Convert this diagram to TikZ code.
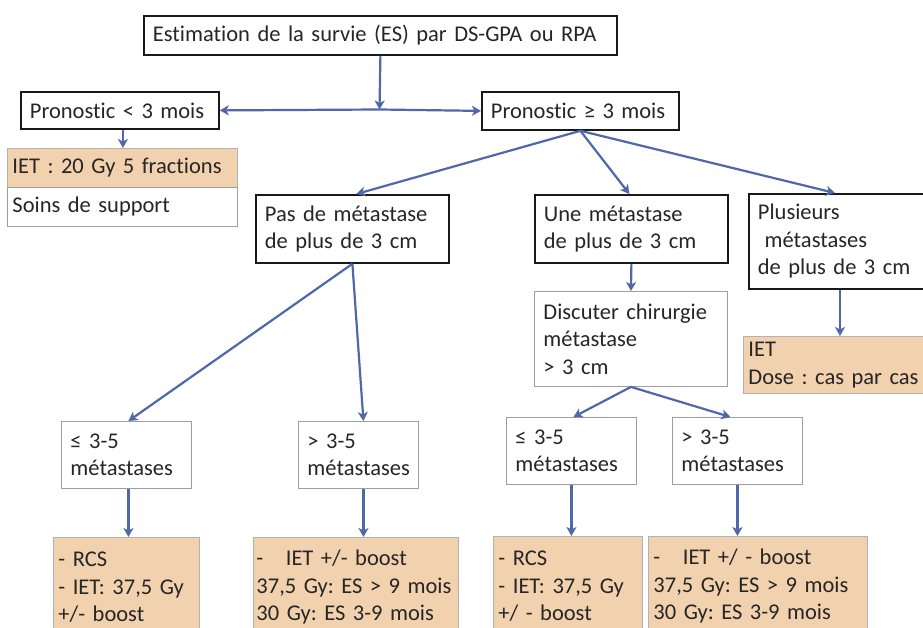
\documentclass[tikz,border=0pt]{standalone}
\usepackage{fontspec}
\setmainfont{Carlito}[Ligatures=NoCommon]
\usepackage{xcolor}
\usepackage{tikz}
\usetikzlibrary{arrows.meta}

\definecolor{arrowblue}{RGB}{80,104,170}
\definecolor{tan}{RGB}{241,209,174}
\definecolor{inkgrey}{RGB}{38,38,38}
\frenchspacing

\begin{document}
\begin{tikzpicture}[x=1pt, y=-1pt,
	every node/.style={font=\fontsize{22.5}{27.5}\selectfont, text=inkgrey},
	box/.style={anchor=north west, align=left, inner xsep=9pt, inner ysep=0pt},
	blackbox/.style={box, draw=black!90, line width=1.8pt},
	greybox/.style={box, draw=black!38, line width=0.9pt},
	tanbox/.style={box, fill=tan, draw=black!30, line width=0.9pt, inner xsep=5pt},
	arr/.style={draw=arrowblue, line width=2.2pt, -{Stealth[length=9pt, width=10pt, inset=2.5pt]}}]
	\clip (0, 0) rectangle (923, 628);
	\fill[white] (0, 0) rectangle (923, 628);

	\node[blackbox, text width=455pt, minimum height=39pt] (Start) at (143, 15) {Estimation de la survie (ES) par DS-GPA ou RPA};
	\coordinate (Split) at (379.5, 109.5);

	\node[blackbox, text width=180pt, minimum height=37pt] (Short) at (20, 91) {Pronostic < 3 mois};
	\node[blackbox, text width=179pt, minimum height=38pt] (Long) at (481, 91) {Pronostic ≥ 3 mois};

	\node[tanbox, text width=220pt, minimum height=39pt] (Palliative) at (7, 148) {IET : 20 Gy 5 fractions};
	\node[greybox, inner xsep=5pt, text width=220pt, minimum height=39pt] (Support) at (7, 187) {Soins de support};

	\node[blackbox, text width=175pt, minimum height=68pt] (NoBig) at (255, 194) {Pas de métastase\\de plus de 3 cm};
	\node[blackbox, text width=175pt, minimum height=68pt] (OneBig) at (534, 194) {Une métastase\\de plus de 3 cm};
	\node[blackbox, text width=182pt, minimum height=95pt] (ManyBig) at (748, 193) {Plusieurs\\\hspace{0.3em}métastases\\de plus de 3 cm};

	\node[greybox, text width=175pt, minimum height=95pt] (Surgery) at (534, 291) {Discuter chirurgie\\métastase\\> 3 cm};
	\node[tanbox, text width=190pt, minimum height=57pt] (Dose) at (743, 336) {IET\\Dose : cas par cas};

	\node[greybox, text width=112pt, minimum height=67pt] (FewA) at (61, 421) {≤ 3-5\\métastases};
	\node[greybox, text width=102pt, minimum height=67pt] (LotsA) at (298, 421) {> 3-5\\métastases};
	\node[greybox, text width=112pt, minimum height=67pt] (FewB) at (506, 417) {≤ 3-5\\métastases};
	\node[greybox, text width=112pt, minimum height=67pt] (LotsB) at (672, 417) {> 3-5\\métastases};

	\node[tanbox, text width=136pt, minimum height=100pt] (RcsA) at (53, 537) {- RCS\\- IET: 37,5 Gy\\+/- boost};
	\node[tanbox, inner xsep=3pt, text width=199pt, minimum height=100pt] (IetA) at (253, 537) {-\quad IET +/- boost\\37,5 Gy: ES > 9 mois\\30 Gy: ES 3-9 mois};
	\node[tanbox, text width=139pt, minimum height=100pt] (RcsB) at (493, 536) {- RCS\\- IET: 37,5 Gy\\+/ - boost};
	\node[tanbox, text width=209pt, minimum height=100pt] (IetB) at (648, 536) {-\quad IET +/ - boost\\37,5 Gy: ES > 9 mois\\30 Gy: ES 3-9 mois};

	\draw[arr] (Start.south) -- (Split);
	\draw[arr] (Split) -- (Short.east);
	\draw[arr] (Split) -- (Long.west);
	\draw[arr] ([xshift=3pt]Short.south) -- ([xshift=3pt]Short.south |- Palliative.north);

	\draw[arr] (Long.south) -- ([xshift=4pt]NoBig.north);
	\draw[arr] (Long.south) -- ([xshift=-2pt]OneBig.north);
	\draw[arr] (Long.south) -- ([xshift=87pt]ManyBig.north west);
	\draw[arr] (OneBig.south) -- (Surgery.north);
	\draw[arr] ([xshift=92pt]ManyBig.south west) -- ([xshift=92pt]ManyBig.south west |- Dose.north);

	\draw[arr] (NoBig.south) -- ([xshift=2pt]FewA.north);
	\draw[arr] (NoBig.south) -- ([xshift=5pt]LotsA.north);
	\draw[arr] (Surgery.south) -- ([xshift=2pt]FewB.north);
	\draw[arr] (Surgery.south) -- ([xshift=-7pt]LotsB.north);

	\draw[arr] ([xshift=2pt]FewA.south) -- ([xshift=2pt]FewA.south |- RcsA.north);
	\draw[arr] ([xshift=5pt]LotsA.south) -- ([xshift=5pt]LotsA.south |- IetA.north);
	\draw[arr] (FewB.south) -- (FewB.south |- RcsB.north);
	\draw[arr] (LotsB.south) -- (LotsB.south |- IetB.north);
\end{tikzpicture}
\end{document}
